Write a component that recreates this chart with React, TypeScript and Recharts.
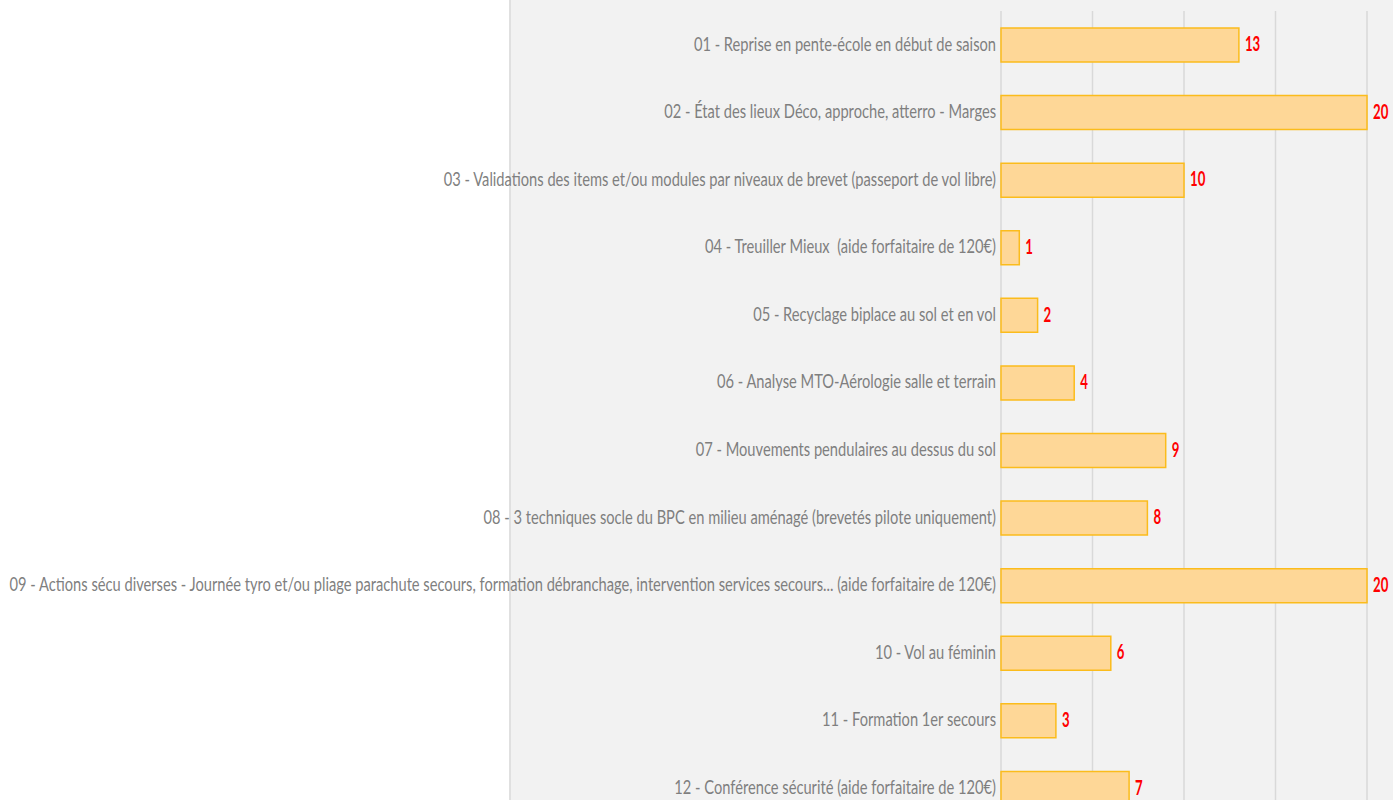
import React from "react";
import { BarChart, Bar, XAxis, YAxis, CartesianGrid, LabelList } from "recharts";

const categories = [
  "01 - Reprise en pente-école en début de saison",
  "02 - État des lieux Déco, approche, atterro - Marges",
  "03 - Validations des items et/ou modules par niveaux de brevet (passeport de vol libre)",
  "04 - Treuiller Mieux  (aide forfaitaire de 120€)",
  "05 - Recyclage biplace au sol et en vol",
  "06 - Analyse MTO-Aérologie salle et terrain",
  "07 - Mouvements pendulaires au dessus du sol",
  "08 - 3 techniques socle du BPC en milieu aménagé (brevetés pilote uniquement)",
  "09 - Actions sécu diverses - Journée tyro et/ou pliage parachute secours, formation débranchage, intervention services secours... (aide forfaitaire de 120€)",
  "10 - Vol au féminin",
  "11 - Formation 1er secours",
  "12 - Conférence sécurité (aide forfaitaire de 120€)",
];
const values = [13, 20, 10, 1, 2, 4, 9, 8, 20, 6, 3, 7];
const xTicks = [0, 5, 10, 15, 20];

const data = categories.map((name, i) => ({ name, value: values[i] }));

const SX = 0.772;
const VSX = 0.66;

const CatTick = (props: any) => {
  const { x, y, payload } = props;
  return (
    <text
      transform={`translate(${x},${Number(y) - 1.5}) scale(${SX},1)`}
      x={0}
      y={0}
      textAnchor="end"
      dominantBaseline="central"
      fill="#7f7f7f"
      fontFamily="Lato"
      fontSize={19}
      style={{ whiteSpace: "pre" }}
    >
      {payload.value}
    </text>
  );
};

const ValueLabel = (props: any) => {
  const { x, y, width, height, value } = props;
  const tx = Number(x) + Number(width) + 6;
  const ty = Number(y) + Number(height) / 2 - 1.5;
  return (
    <text
      transform={`translate(${tx},${ty}) scale(${VSX},1)`}
      x={0}
      y={0}
      textAnchor="start"
      dominantBaseline="central"
      fill="#ff0000"
      fontFamily="Lato"
      fontWeight="bold"
      fontSize={20}
    >
      {value}
    </text>
  );
};

export default function App() {
  return (
    <div style={{ position: "absolute", left: 0, top: 0, width: 1393, height: 800, overflow: "hidden", background: "#ffffff" }}>
      <div
        style={{
          position: "absolute",
          left: 509,
          top: 0,
          width: 1393 - 509,
          height: 800,
          background: "#f2f2f2",
          borderLeft: "2px solid #e0e0e0",
          boxSizing: "border-box",
        }}
      />
      <div style={{ position: "absolute", left: 0, top: 0 }}>
        <BarChart
          layout="vertical"
          width={1393}
          height={822}
          data={data}
          margin={{ top: 11, right: 26, bottom: 0, left: 0 }}
        >
          <CartesianGrid horizontal={false} stroke="#d9d9d9" strokeWidth={1.5} />
          <XAxis type="number" domain={[0, 20]} ticks={xTicks} hide />
          <YAxis
            type="category"
            dataKey="name"
            width={1001}
            axisLine={false}
            tickLine={false}
            tickSize={0}
            tickMargin={5}
            interval={0}
            tick={<CatTick />}
          />
          <Bar dataKey="value" fill="#fed797" stroke="#fbbc1c" strokeWidth={1.5} barSize={34} isAnimationActive={false}>
            <LabelList dataKey="value" content={<ValueLabel />} />
          </Bar>
        </BarChart>
      </div>
    </div>
  );
}
